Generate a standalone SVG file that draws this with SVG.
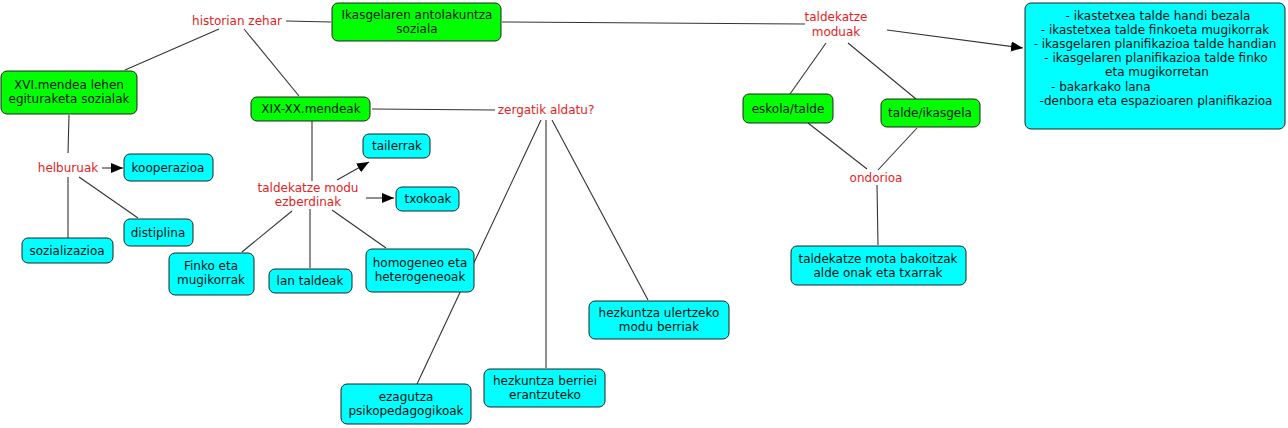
<svg xmlns="http://www.w3.org/2000/svg" width="1288" height="428" viewBox="0 0 1288 428">
<style>
text{font-family:"DejaVu Sans","Liberation Sans",sans-serif;font-size:12px;text-anchor:middle}
.n text{fill:#111}
.n text.l{fill:#e02424}
.g{fill:#00ff00;stroke:#222;stroke-width:1}
.c{fill:#00ffff;stroke:#222;stroke-width:1}
.e line{stroke:#333;stroke-width:1.1}
</style>
<defs>
<marker id="ah" markerUnits="userSpaceOnUse" markerWidth="13" markerHeight="11" refX="12" refY="5" orient="auto"><path d="M0,0 L12,5 L0,10 z" fill="#000"/></marker>
</defs>
<rect width="1288" height="428" fill="#fff"/>
<g id="connectors" class="e">
<line x1="286" y1="21" x2="331" y2="22"/>
<line x1="219" y1="29" x2="125" y2="70"/>
<line x1="244" y1="29" x2="299" y2="96"/>
<line x1="372" y1="109" x2="495" y2="110"/>
<line x1="502" y1="22" x2="805" y2="24"/>
<line x1="887" y1="30" x2="1023" y2="48" marker-end="url(#ah)"/>
<line x1="826" y1="43" x2="790" y2="94"/>
<line x1="848" y1="43" x2="916" y2="99"/>
<line x1="808" y1="123" x2="867" y2="169"/>
<line x1="917" y1="128" x2="878" y2="170"/>
<line x1="877" y1="185" x2="878" y2="245"/>
<line x1="69" y1="115" x2="68" y2="153"/>
<line x1="102" y1="168" x2="123" y2="168" marker-end="url(#ah)"/>
<line x1="79" y1="177" x2="138" y2="218"/>
<line x1="68" y1="177" x2="68" y2="238"/>
<line x1="312" y1="121" x2="312" y2="181"/>
<line x1="337" y1="180" x2="369" y2="162" marker-end="url(#ah)"/>
<line x1="366" y1="198" x2="394" y2="198" marker-end="url(#ah)"/>
<line x1="292" y1="211" x2="242" y2="252"/>
<line x1="310" y1="209" x2="310" y2="268"/>
<line x1="332" y1="210" x2="386" y2="248"/>
<line x1="541" y1="120" x2="417" y2="384"/>
<line x1="546" y1="120" x2="546" y2="368"/>
<line x1="552" y1="120" x2="648" y2="300"/>
</g>
<g class="n">
<g id="ikasgelaren"><rect class="g" x="332" y="3" width="169" height="38" rx="6"/><text x="417" y="19">Ikasgelaren antolakuntza</text><text x="417" y="33">soziala</text></g>
<g id="historian"><text class="l" x="237" y="25">historian zehar</text></g>
<g id="xvi"><rect class="g" x="1" y="71" width="136" height="43" rx="6"/><text x="69" y="89">XVI.mendea lehen</text><text x="69" y="103">egituraketa sozialak</text></g>
<g id="xix"><rect class="g" x="251" y="97" width="119" height="24" rx="6"/><text x="311" y="113">XIX-XX.mendeak</text></g>
<g id="zergatik"><text class="l" x="546" y="114">zergatik aldatu?</text></g>
<g id="moduak"><text class="l" x="836" y="21">taldekatze</text><text class="l" x="836" y="36">moduak</text></g>
<g id="zerrenda"><rect class="c" x="1025" y="3" width="260" height="126" rx="6"/>
<text x="1158" y="20">- ikastetxea talde handi bezala</text>
<text x="1155" y="34">- ikastetxea talde finkoeta mugikorrak</text>
<text x="1155" y="48">- ikasgelaren planifikazioa talde handian</text>
<text x="1156" y="62">- ikasgelaren planifikazioa talde finko</text>
<text x="1157" y="76">eta mugikorretan</text>
<text x="1051" y="91" style="text-anchor:start">- bakarkako lana</text>
<text x="1156" y="105">-denbora eta espazioaren planifikazioa</text></g>
<g id="eskola"><rect class="g" x="743" y="94" width="90" height="29" rx="6"/><text x="788" y="113">eskola/talde</text></g>
<g id="taldeikasgela"><rect class="g" x="881" y="99" width="99" height="28" rx="6"/><text x="930" y="117">talde/ikasgela</text></g>
<g id="ondorioa"><text class="l" x="876" y="182">ondorioa</text></g>
<g id="bakoitzak"><rect class="c" x="791" y="246" width="175" height="39" rx="6"/><text x="878" y="263">taldekatze mota bakoitzak</text><text x="878" y="277">alde onak eta txarrak</text></g>
<g id="helburuak"><text class="l" x="68" y="172">helburuak</text></g>
<g id="kooperazioa"><rect class="c" x="124" y="154" width="89" height="27" rx="6"/><text x="168" y="172">kooperazioa</text></g>
<g id="distiplina"><rect class="c" x="124" y="219" width="69" height="27" rx="6"/><text x="158" y="237">distiplina</text></g>
<g id="sozializazioa"><rect class="c" x="22" y="238" width="91" height="25" rx="6"/><text x="67" y="255">sozializazioa</text></g>
<g id="ezberdinak"><text class="l" x="308" y="192">taldekatze modu</text><text class="l" x="308" y="206">ezberdinak</text></g>
<g id="tailerrak"><rect class="c" x="363" y="134" width="67" height="24" rx="6"/><text x="397" y="150">tailerrak</text></g>
<g id="txokoak"><rect class="c" x="396" y="187" width="63" height="24" rx="6"/><text x="428" y="203">txokoak</text></g>
<g id="finko"><rect class="c" x="169" y="253" width="85" height="42" rx="6"/><text x="211" y="270">Finko eta</text><text x="211" y="284">mugikorrak</text></g>
<g id="lantaldeak"><rect class="c" x="269" y="269" width="83" height="24" rx="6"/><text x="310" y="285">lan taldeak</text></g>
<g id="homogeneo"><rect class="c" x="366" y="249" width="108" height="43" rx="6"/><text x="420" y="267">homogeneo eta</text><text x="420" y="281">heterogeneoak</text></g>
<g id="ezagutza"><rect class="c" x="341" y="384" width="130" height="40" rx="6"/><text x="406" y="401">ezagutza</text><text x="406" y="415">psikopedagogikoak</text></g>
<g id="berriei"><rect class="c" x="484" y="369" width="121" height="38" rx="6"/><text x="545" y="385">hezkuntza berriei</text><text x="545" y="399">erantzuteko</text></g>
<g id="ulertzeko"><rect class="c" x="589" y="301" width="140" height="38" rx="6"/><text x="659" y="317">hezkuntza ulertzeko</text><text x="659" y="331">modu berriak</text></g>
</g>
</svg>
